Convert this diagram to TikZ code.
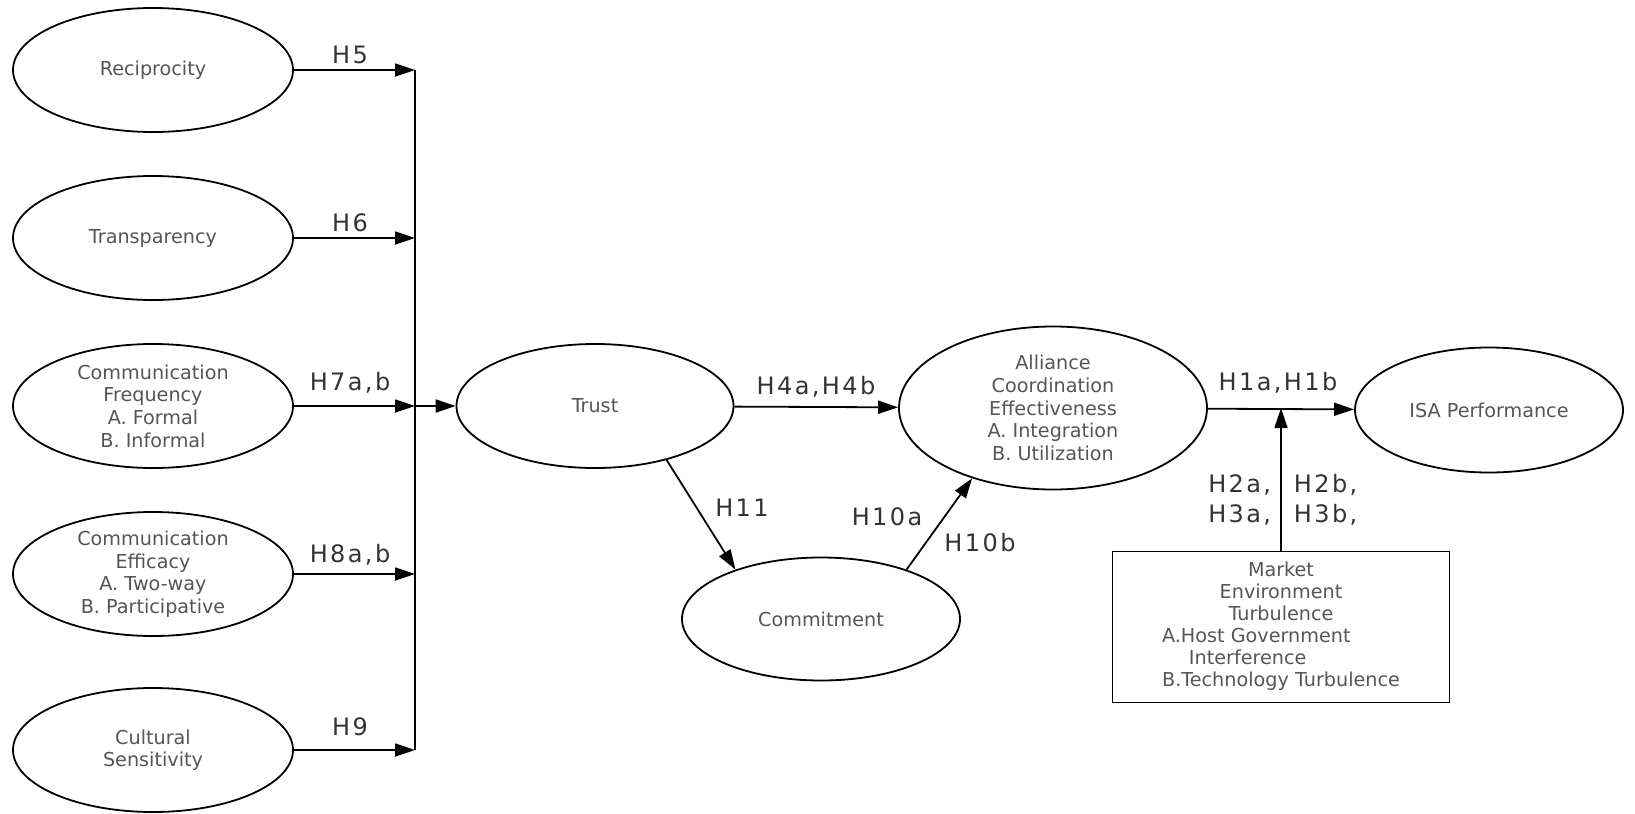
\documentclass[tikz,border=0pt]{standalone}
\usepackage{fontspec}
\setmainfont{DejaVu Sans}
\newfontfamily\hfont[LetterSpace=10]{DejaVu Sans}
\usepackage{tikz}
\usetikzlibrary{positioning, shapes.geometric, arrows.meta}
\definecolor{txtgray}{HTML}{555555}
\definecolor{hgray}{HTML}{333333}

\begin{document}
\begin{tikzpicture}[x=0.5pt, y=-0.5pt, line width=0.9pt,
            ell/.style={ellipse, draw, inner sep=0pt, align=center, text=txtgray,
                font=\fontsize{9.6}{11.3}\selectfont},
            hl/.style={text=hgray, font=\hfont\fontsize{12}{15}\selectfont, inner sep=0pt, align=center},
            arr/.style={-{Triangle[length=10pt, width=6.5pt]}}]
            \useasboundingbox (0,0) rectangle (1635,814);
            % Antecedents and bus
            \coordinate (bt) at (415,70);
            \coordinate (bb) at (415,750);
            \draw (bt) -- (bb);
            \foreach \y/\nm/\txt/\lab/\ly in {70/rec/{Reciprocity}/H5/55,
                    238/tra/{Transparency}/H6/223,
                    406/cfr/{Communication\\Frequency\\A. Formal\\B. Informal}/{H7a,b}/383,
                    574/cef/{Communication\\Efficacy\\A. Two-way\\B. Participative}/{H8a,b}/555,
                    750/cul/{Cultural\\Sensitivity}/H9/727} {
                \node[ell, minimum width=140pt, minimum height=62pt] (\nm) at (153,\y) {\txt};
                \draw[arr] (\nm) -- (\nm -| bt);
                \node[hl] (h\nm) at (350,\ly) {\lab};
            }

            % Mediators and outcome
            \node[ell, minimum width=138.5pt, minimum height=62pt] (tru) at (595,406) {Trust};
            \node[ell, minimum width=139pt, minimum height=61.5pt] (com) at (821,619) {Commitment};
            \node[ell, minimum width=154pt, minimum height=81.5pt] (all) at (1053,408)
                {Alliance\\Coordination\\Effectiveness\\A. Integration\\B. Utilization};
            \node[ell, minimum width=134pt, minimum height=62.5pt] (isa) at (1489,410) {ISA Performance};
            \node[draw, minimum width=168.5pt, minimum height=75.5pt, inner sep=0pt, align=center,
                text=txtgray, font=\fontsize{9.6}{11}\selectfont] (mkt) at (1281,627)
                {Market\\Environment\\Turbulence\\
                \begin{tabular}[t]{@{}l@{}}A.Host Government\\\hspace{1.4em}Interference\\B.Technology Turbulence\end{tabular}};

            \draw[arr] (tru -| bt) -- (tru);
            \draw[arr] (tru) -- (all);
            \draw[arr] (tru.-37) -- (com.150);
            \draw[arr] (com.30) -- (all.221);
            \draw[arr] (all) -- (isa);
            \coordinate (jn) at (mkt.north |- all.east);
            \draw[arr] (mkt.north) -- (jn);

            % Hypothesis labels
            \node[hl] (h4) at (816,387) {H4a,H4b};
            \node[hl] (h11) at (742,508) {H11};
            \node[hl] (h10a) at (887,517) {H10a};
            \node[hl] (h10b) at (980,543) {H10b};
            \node[hl] (h1) at (1278,383) {H1a,H1b};
            \node[hl, anchor=east] (h23a) at (1272,500) {H2a,\\H3a,};
            \node[hl, anchor=west] (h23b) at (1293,500) {H2b,\\H3b,};
        \end{tikzpicture}
\end{document}
